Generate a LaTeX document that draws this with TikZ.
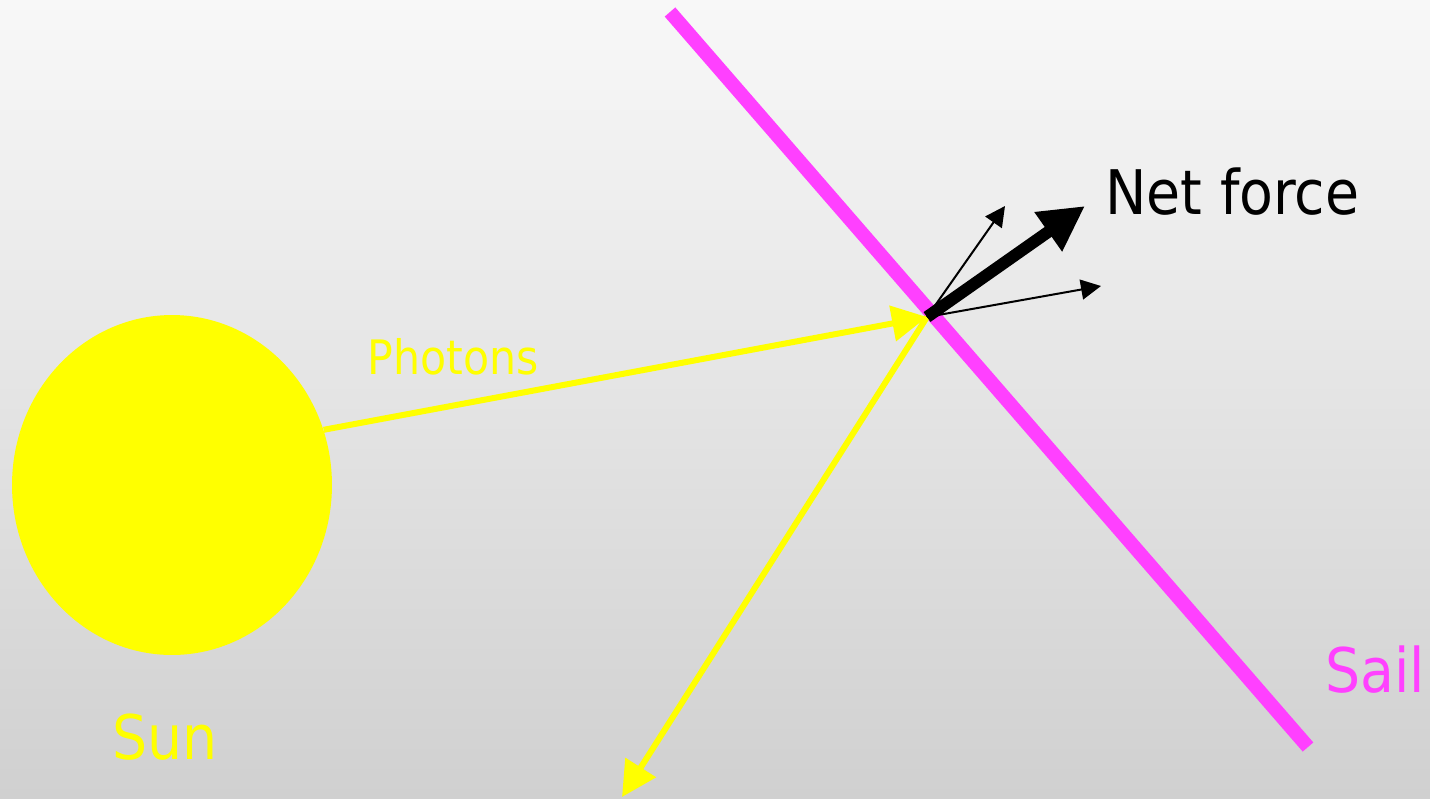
\documentclass[tikz,border=0pt]{standalone}
\usepackage{fontspec}
\setmainfont{DejaVu Sans Condensed}
\usetikzlibrary{arrows.meta,shapes.geometric}
\definecolor{SolYellow}{RGB}{255,255,0}
\definecolor{SolMagenta}{RGB}{255,64,255}
\definecolor{SolBgTop}{RGB}{248,248,248}
\definecolor{SolBgBottom}{RGB}{208,208,208}
\tikzset{
  sol/photon/.style={-{Triangle[length=0.7cm,width=0.7cm]}, line width=0.12cm, draw=SolYellow},
  sol/force/.style={-{Triangle[length=0.4cm,width=0.4cm]}, line width=0.04cm, draw=black},
  sol/netforce/.style={-{Triangle[length=0.9cm,width=0.9cm]}, line width=0.24cm, draw=black},
  sol/sail/.style={line width=0.28cm, draw=SolMagenta},
  sol/biglabel/.style={inner sep=0pt, font=\fontsize{35}{40}\selectfont},
  sol/smalllabel/.style={inner sep=0pt, font=\fontsize{27}{32}\selectfont}
}
\begin{document}
\begin{tikzpicture}[x=0.02cm,y=-0.02cm]
  % background
  \shade[top color=SolBgTop,bottom color=SolBgBottom] (0,0) rectangle (1430,798);
  \useasboundingbox (0,0) rectangle (1430,798);
  % sun
  \node[ellipse,fill=SolYellow,minimum width=6.4cm,minimum height=6.8cm,inner sep=0pt] (sun) at (172,485) {};
  \node[sol/biglabel,text=SolYellow] (sunlabel) at (165,737) {Sun};
  % sail
  \coordinate (sailtop) at (670,12);
  \coordinate (sailbottom) at (1308,747);
  \draw[sol/sail] (sailtop) -- (sailbottom);
  \node[sol/biglabel,text=SolMagenta] (saillabel) at (1375,670) {Sail};
  % photons hit the sail
  \coordinate (hit) at (927,317);
  \coordinate (bounce) at (622,797);
  \draw[sol/photon] (sun.20) -- (hit);
  \draw[sol/photon] (hit) -- (bounce);
  \node[sol/smalllabel,text=SolYellow] (photonlabel) at (453,357) {Photons};
  % forces
  \coordinate (pushup) at (1005,206);
  \coordinate (pushright) at (1101,286);
  \coordinate (net) at (1085,206);
  \draw[sol/force] (hit) -- (pushup);
  \draw[sol/force] (hit) -- (pushright);
  \draw[sol/netforce] (hit) -- (net);
  \node[sol/biglabel,anchor=west] (netlabel) at (1105,192) {Net force};
\end{tikzpicture}
\end{document}
